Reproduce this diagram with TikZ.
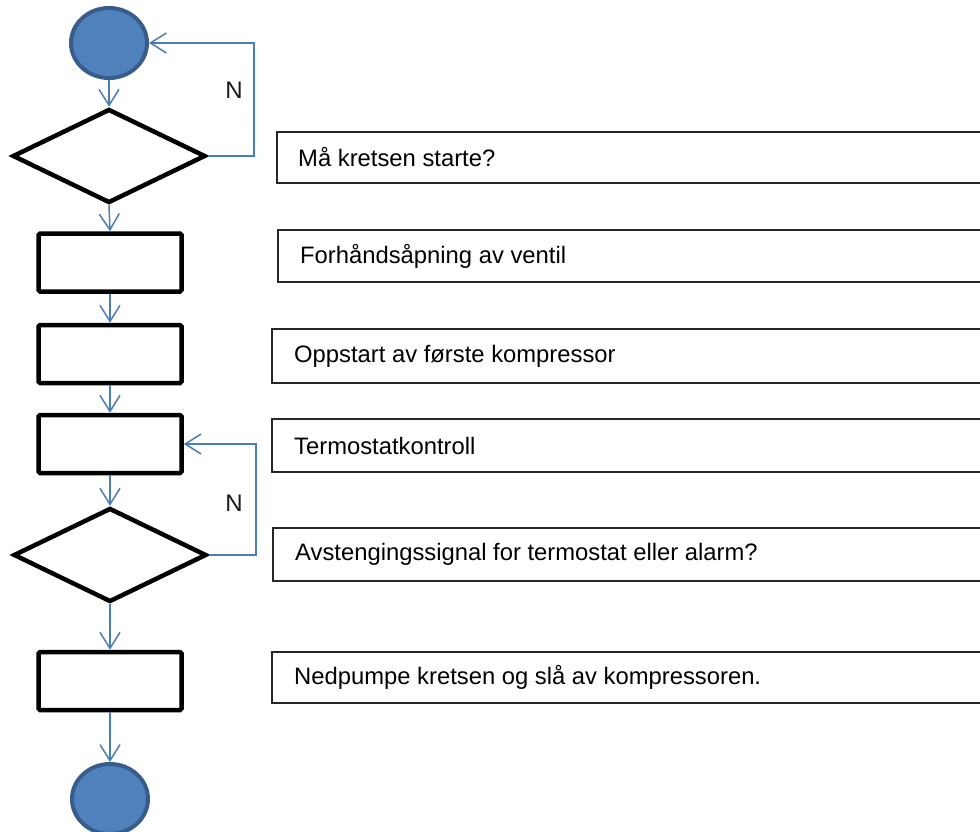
\documentclass[tikz,border=0pt]{standalone}
\usepackage{fontspec}
\setmainfont{Liberation Sans}
\usetikzlibrary{shapes.geometric,arrows.meta}
\definecolor{ofill}{HTML}{4F81BD}
\definecolor{oborder}{HTML}{385D8A}
\definecolor{oarrow}{HTML}{4A7EBB}
\tikzset{
  term/.style={ellipse, fill=ofill, draw=oborder, line width=4pt, inner sep=0pt, minimum width=76pt, minimum height=70pt},
  decide/.style={diamond, draw=black, line width=4.5pt, inner sep=0pt, minimum width=193pt, minimum height=94pt},
  procbox/.style={rectangle, draw=black, line width=4.5pt, rounded corners=1.5pt, inner sep=0pt, minimum width=143pt, minimum height=58pt},
  flow/.style={draw=oarrow, line width=1.5pt, -{Straight Barb[length=16pt, width=20pt, line width=1.5pt]}},
  notebox/.style={draw=black!85, line width=1.5pt},
  notetext/.style={anchor=west, inner sep=0pt, font=\fontsize{23.8}{28}\selectfont},
  nlabel/.style={inner sep=0pt, text=black!90, font=\fontsize{24}{28}\selectfont}
}
\begin{document}
\begin{tikzpicture}[x=1pt,y=-1pt]
\clip (0,0) rectangle (980,832);
\fill[white] (0,0) rectangle (980,832);
% flowchart shapes
\node[term] (start) at (109,43) {};
\node[decide] (d1) at (109,156) {};
\node[procbox] (r1) at (110,262.5) {};
\node[procbox] (r2) at (110,354) {};
\node[procbox] (r3) at (110,444) {};
\node[decide] (d2) at (110,555) {};
\node[procbox] (r4) at (110,681) {};
\node[term] (end) at (110,799) {};
% connectors
\draw[flow] (start.south) -- (d1.north);
\draw[flow] (d1.south) -- (r1.north);
\draw[flow] (r1.south) -- (r2.north);
\draw[flow] (r2.south) -- (r3.north);
\draw[flow] (r3.south) -- (d2.north);
\draw[flow] (d2.south) -- (r4.north);
\draw[flow] (r4.south) -- (end.north);
\coordinate (l1a) at (254,156);
\coordinate (l1b) at (254,43);
\draw[flow] (d1.east) -- (l1a) -- (l1b) -- (start.east);
\coordinate (l2a) at (256,555);
\coordinate (l2b) at (256,444);
\draw[flow] (d2.east) -- (l2a) -- (l2b) -- (r3.east);
\node[nlabel] (n1) at (234,90) {N};
\node[nlabel] (n2) at (234,503) {N};
% note boxes
\draw[notebox] (277,132) rectangle (990,183);
\node[notetext] (t1) at (298,157.5) {Må kretsen starte?};
\draw[notebox] (278,230) rectangle (990,282);
\node[notetext] (t2) at (300,256) {Forhåndsåpning av ventil};
\draw[notebox] (272,329) rectangle (990,383);
\node[notetext] (t3) at (294,356) {Oppstart av første kompressor};
\draw[notebox] (272,419) rectangle (990,472);
\node[notetext] (t4) at (294,445.5) {Termostatkontroll};
\draw[notebox] (273,528) rectangle (990,581);
\node[notetext] (t5) at (295,554.5) {Avstengingssignal for termostat eller alarm?};
\draw[notebox] (272,652) rectangle (990,703);
\node[notetext] (t6) at (294,677.5) {Nedpumpe kretsen og slå av kompressoren.};
\end{tikzpicture}
\end{document}
